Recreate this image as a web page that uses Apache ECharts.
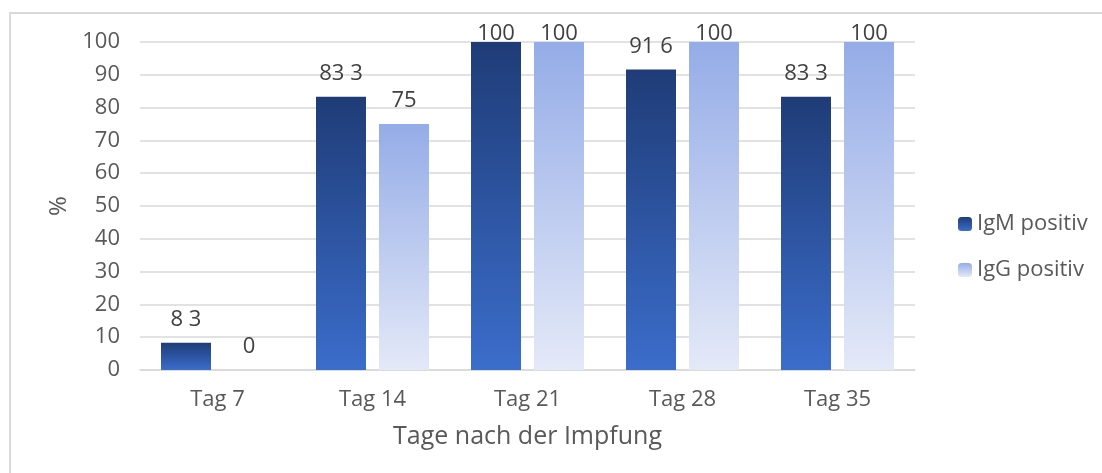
<!DOCTYPE html>
<html><head><meta charset="utf-8">
<script src="https://cdn.jsdelivr.net/npm/echarts@6/dist/echarts.min.js"></script>
<style>html,body{margin:0;padding:0;background:#fff}#c{width:1102px;height:473px}#frame{position:absolute;left:9px;top:12px;width:1100px;height:470px;border:2px solid #d9d9d9;box-sizing:border-box;pointer-events:none}</style>
</head><body>
<div id="c"></div><div id="frame"></div>
<script>
var categories = ['Tag 7', 'Tag 14', 'Tag 21', 'Tag 28', 'Tag 35'];
var igm = [8.3, 83.3, 100, 91.6, 83.3];
var igg = [0, 75, 100, 100, 100];
var yTicks = [0, 10, 20, 30, 40, 50, 60, 70, 80, 90, 100];

var FONT = '"Open Sans", "Noto Sans", sans-serif';
function grad(a, b) {
  return new echarts.graphic.LinearGradient(0, 0, 0, 1, [{offset: 0, color: a}, {offset: 1, color: b}]);
}
var lbl = {
  show: true, position: 'top', distance: 12, color: '#404040', fontSize: 22, fontFamily: FONT,
  formatter: function (p) { return String(p.value).replace('.', ' '); }
};
// labels at the top of the plot are pulled down (as in the reference)
function items(arr) {
  return arr.map(function (v) {
    return v >= 100 ? {value: v, label: {distance: -3}} : v;
  });
}
var chart = echarts.init(document.getElementById('c'));
chart.setOption({
  animation: false,
  textStyle: {fontFamily: FONT},
  grid: {left: 140, right: 187, top: 42, bottom: 103, containLabel: false},
  legend: {
    orient: 'vertical', left: 953, top: 208, itemWidth: 14, itemHeight: 14, itemGap: 24,
    textStyle: {color: '#595959', fontSize: 22, fontFamily: FONT},
    data: ['IgM positiv', 'IgG positiv']
  },
  xAxis: {
    type: 'category', data: categories,
    axisLine: {lineStyle: {color: '#d9d9d9', width: 1.5}},
    axisTick: {show: false},
    axisLabel: {color: '#595959', fontSize: 22, margin: 19, fontFamily: FONT},
    name: 'Tage nach der Impfung', nameLocation: 'middle', nameGap: 54,
    nameTextStyle: {color: '#595959', fontSize: 25, fontFamily: FONT}
  },
  yAxis: {
    type: 'value', min: 0, max: 100, interval: 10,
    axisLine: {show: false}, axisTick: {show: false},
    splitLine: {lineStyle: {color: '#d9d9d9', width: 1.5}},
    axisLabel: {color: '#595959', fontSize: 22, margin: 20, fontFamily: FONT,
      formatter: function (v) { return yTicks.indexOf(v) >= 0 ? String(v) : ''; }},
    name: '%', nameLocation: 'middle', nameGap: 68, nameRotate: 90,
    nameTextStyle: {color: '#595959', fontSize: 24, fontFamily: FONT}
  },
  series: [
    {name: 'IgM positiv', type: 'bar', data: items(igm), barWidth: 50, barGap: '26%',
      itemStyle: {color: grad('#1f3c77', '#3b6dcb')}, label: lbl},
    {name: 'IgG positiv', type: 'bar', data: items(igg), barWidth: 50,
      itemStyle: {color: grad('#94ace7', '#e4e9f8')}, label: lbl}
  ]
});
</script>
</body></html>
